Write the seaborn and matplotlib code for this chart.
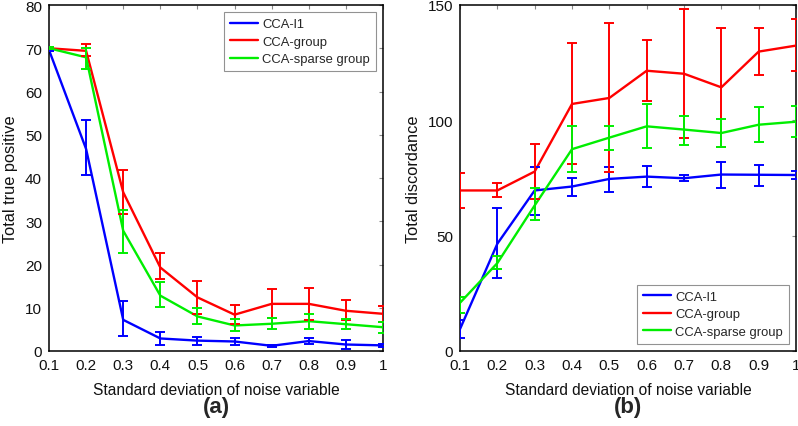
import numpy as np
import pandas as pd
import matplotlib
matplotlib.use("Agg")
import matplotlib.pyplot as plt
import seaborn as sns

sns.set_theme(style="white")
plt.rcParams['font.family'] = ['Liberation Sans', 'DejaVu Sans']

x = [0.1, 0.2, 0.3, 0.4, 0.5, 0.6, 0.7, 0.8, 0.9, 1.0]
xtick_labels = ["0.1", "0.2", "0.3", "0.4", "0.5", "0.6", "0.7", "0.8", "0.9", "1"]
methods = ["CCA-l1", "CCA-group", "CCA-sparse group"]
colors = ["#0000ff", "#ff0000", "#00ee00"]

# Panel (a): Total true positive (mean, lower bound, upper bound)
a_l1_mean = [69.6, 46.7, 7.2, 2.9, 2.4, 2.2, 1.2, 2.3, 1.5, 1.3]
a_l1_low = [69.3, 40.7, 3.4, 1.5, 1.5, 1.4, 0.9, 1.6, 0.5, 1.0]
a_l1_high = [69.9, 53.5, 11.5, 4.3, 3.3, 3.0, 1.5, 3.0, 2.5, 1.6]

a_grp_mean = [70.0, 69.4, 36.7, 19.3, 12.4, 8.4, 10.9, 10.9, 9.3, 8.6]
a_grp_low = [69.8, 68.3, 31.7, 16.6, 8.6, 6.2, 7.6, 7.2, 7.1, 6.8]
a_grp_high = [70.2, 70.9, 41.9, 22.6, 16.3, 10.7, 14.3, 14.5, 11.8, 10.5]

a_sg_mean = [70.0, 67.9, 27.8, 12.8, 8.0, 5.9, 6.3, 6.9, 6.2, 5.5]
a_sg_low = [69.8, 65.2, 22.7, 10.1, 6.2, 4.7, 5.1, 5.1, 5.1, 4.2]
a_sg_high = [70.2, 70.0, 32.7, 15.9, 9.9, 7.4, 7.6, 8.6, 7.3, 6.8]

# Panel (b): Total discordance
b_l1_mean = [9.5, 46.5, 69.6, 71.3, 74.6, 75.6, 74.9, 76.5, 76.4, 76.3]
b_l1_low = [5.6, 31.6, 59.0, 67.1, 68.9, 71.0, 73.6, 70.6, 71.5, 74.6]
b_l1_high = [13.4, 62.1, 79.7, 75.0, 79.7, 80.0, 76.5, 81.8, 80.8, 78.0]

b_grp_mean = [69.6, 69.6, 77.8, 107.1, 109.7, 121.5, 120.2, 114.3, 129.8, 132.4]
b_grp_low = [62.1, 66.7, 66.0, 81.1, 77.5, 108.3, 92.2, 88.3, 119.5, 121.4]
b_grp_high = [77.2, 72.8, 89.6, 133.4, 142.0, 134.7, 148.2, 140.0, 139.9, 143.9]

b_sg_mean = [20.9, 38.1, 63.1, 87.5, 92.5, 97.4, 96.0, 94.5, 98.1, 99.4]
b_sg_low = [16.6, 35.6, 56.6, 77.8, 87.3, 88.0, 89.3, 88.3, 90.5, 92.7]
b_sg_high = [23.4, 41.1, 70.6, 97.7, 97.7, 107.1, 102.0, 100.6, 105.9, 106.4]

panels = [
    dict(means=[a_l1_mean, a_grp_mean, a_sg_mean],
         lows=[a_l1_low, a_grp_low, a_sg_low],
         highs=[a_l1_high, a_grp_high, a_sg_high],
         ylabel="Total true positive", ylim=(0, 80), yticks=list(range(0, 81, 10)),
         tag="(a)", legend_loc="upper right"),
    dict(means=[b_l1_mean, b_grp_mean, b_sg_mean],
         lows=[b_l1_low, b_grp_low, b_sg_low],
         highs=[b_l1_high, b_grp_high, b_sg_high],
         ylabel="Total discordance", ylim=(0, 150), yticks=[0, 50, 100, 150],
         tag="(b)", legend_loc="lower right"),
]

fig = plt.figure(figsize=(7.98, 4.27), dpi=100)
rects = [[49/798, 75/427, 334/798, 346/427], [460/798, 75/427, 336/798, 346/427]]

for rect, p in zip(rects, panels):
    ax = fig.add_axes(rect)
    rows = []
    for m, mean in zip(methods, p["means"]):
        for xi, v in zip(x, mean):
            rows.append({"x": xi, "y": v, "method": m})
    df = pd.DataFrame(rows)
    sns.lineplot(data=df, x="x", y="y", hue="method", hue_order=methods,
                 palette=colors, linewidth=1.7, ax=ax, errorbar=None)
    for c, mean, lo, hi in zip(colors, p["means"], p["lows"], p["highs"]):
        mean = np.array(mean); lo = np.array(lo); hi = np.array(hi)
        ax.errorbar(x, mean, yerr=[mean - lo, hi - mean], fmt="none",
                    ecolor=c, elinewidth=1.4, capsize=3.5, capthick=1.4, zorder=3)
    ax.set_xlim(0.1, 1.0)
    ax.set_ylim(*p["ylim"])
    ax.set_xticks(x)
    ax.set_xticklabels(xtick_labels)
    ax.set_yticks(p["yticks"])
    ax.tick_params(direction="in", top=True, right=True, length=3, width=0.8,
                   colors="#888888", labelcolor="#111111", labelsize=11, pad=5)
    for s in ax.spines.values():
        s.set_color("black")
        s.set_linewidth(1.1)
    ax.set_xlabel("Standard deviation of noise variable", fontsize=11.2,
                  labelpad=7, color="#111111")
    ax.set_ylabel(p["ylabel"], fontsize=11.8, labelpad=5, color="#111111")
    leg = ax.legend(loc=p["legend_loc"], fontsize=9.4, frameon=True, fancybox=False,
                    borderaxespad=0.55, handlelength=2.2, labelspacing=0.42,
                    borderpad=0.45, handletextpad=0.3)
    leg.get_frame().set_edgecolor("#777777")
    leg.get_frame().set_linewidth(0.8)
    for h in leg.get_lines():
        h.set_linewidth(1.7)
    cx = rect[0] + rect[2] / 2
    fig.text(cx, (427 - 408) / 427, p["tag"], ha="center", va="center",
             fontsize=16, fontweight="bold")

fig.savefig("out.png", dpi=100)
